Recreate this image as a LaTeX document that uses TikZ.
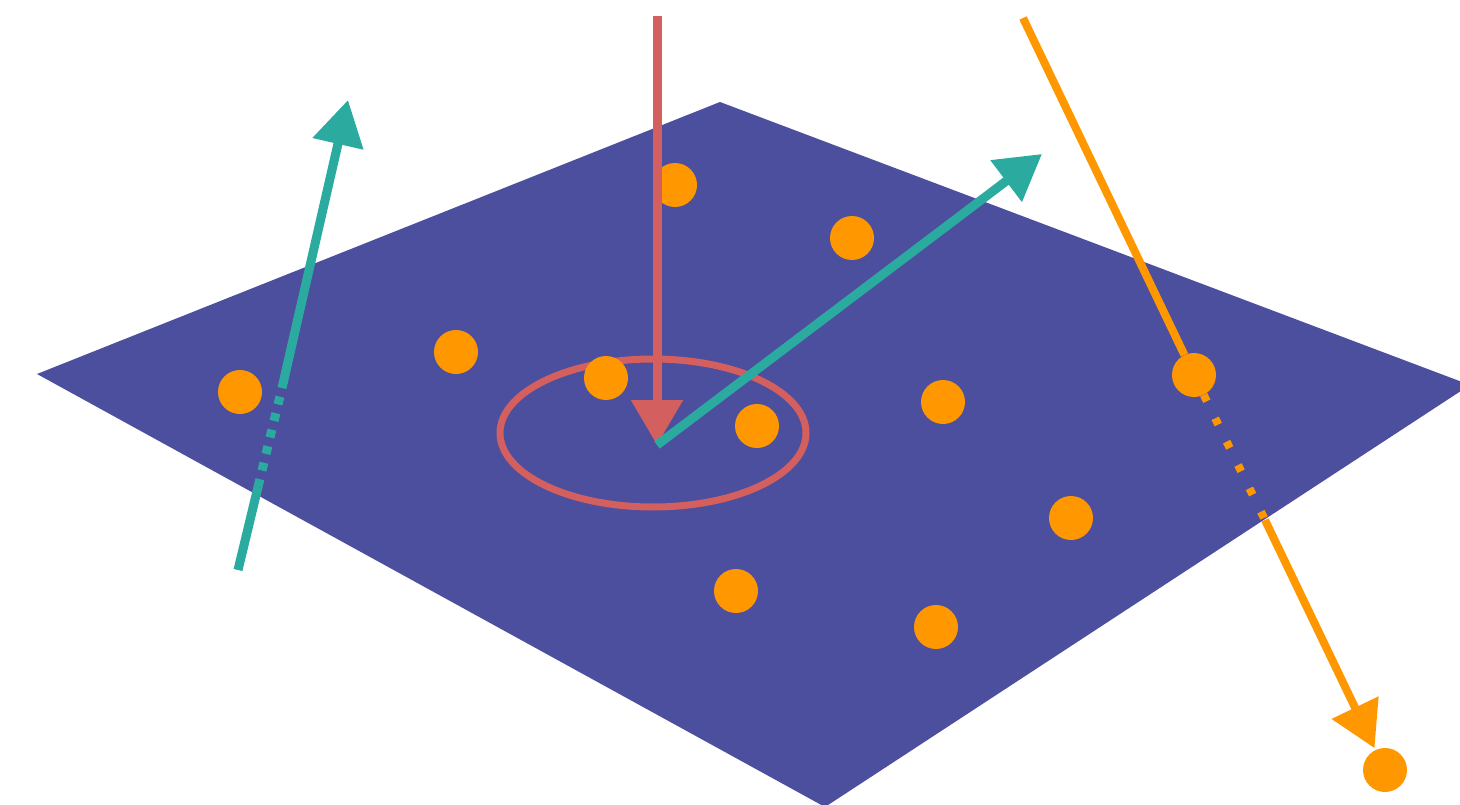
\documentclass[tikz,border=0pt]{standalone}
\usepackage{tikz}
\usetikzlibrary{arrows.meta,calc,positioning}
\definecolor{PlaneBlue}{HTML}{4C4E9E}
\definecolor{HitOrange}{HTML}{FF9800}
\definecolor{RayTeal}{HTML}{2BABA0}
\definecolor{BeamRed}{HTML}{D35F5F}

\begin{document}
\begin{tikzpicture}[x=1pt,y=-1pt,
  hit/.style={circle,fill=HitOrange,inner sep=0pt,minimum size=44pt},
  tealray/.style={RayTeal,line width=9pt},
  orgray/.style={HitOrange,line width=8pt},
  tip/.style={-{Triangle[length=45pt,width=50pt]}}]
  \useasboundingbox (0,0) rectangle (1460,805);
  % the plane and the spot
  \fill[PlaneBlue] (37,374) -- (720,102) -- (1470,385) -- (825,807) -- cycle;
  \draw[BeamRed,line width=7pt] (653,433) ellipse [x radius=153, y radius=74];
  % hits
  \node[hit] (h1) at (240,392) {};
  \node[hit] (h2) at (456,352) {};
  \node[hit] (h3) at (606,378) {};
  \node[hit] (h4) at (675,185) {};
  \node[hit] (h5) at (852,238) {};
  \node[hit] (h6) at (757,426) {};
  \node[hit] (h7) at (943,402) {};
  \node[hit] (h8) at (1194,375) {};
  \node[hit] (h9) at (1071,518) {};
  \node[hit] (h10) at (736,591) {};
  \node[hit] (h11) at (936,627) {};
  \node[hit] (hout) at (1385,770) {};
  % incoming beam
  \coordinate (btop) at (657,16);
  \coordinate (bc) at (657,445);
  \draw[BeamRed,line width=9pt,tip] (btop) -- (bc);
  \coordinate (tout) at (1042,154);
  \draw[tealray,tip] (bc) -- (tout);
  % ray through the plane
  \coordinate (lbot) at (238,570);
  \coordinate (lin) at (258,487);
  \coordinate (lup) at (282,388);
  \coordinate (ltop) at (348,100);
  \draw[tealray] (lbot) -- (lin);
  \draw[tealray,dash pattern=on 8pt off 9pt] (lin) -- (lup);
  \draw[tealray,tip] (lup) -- (ltop);
  % orange track
  \coordinate (otop) at (1023,18);
  \coordinate (ocross) at (1265,520);
  \draw[orgray] (otop) -- (h8);
  \draw[orgray,dash pattern=on 7pt off 19pt] (h8) -- (ocross);
  \draw[orgray,tip,shorten >=2pt] (ocross) -- (hout);
\end{tikzpicture}
\end{document}
